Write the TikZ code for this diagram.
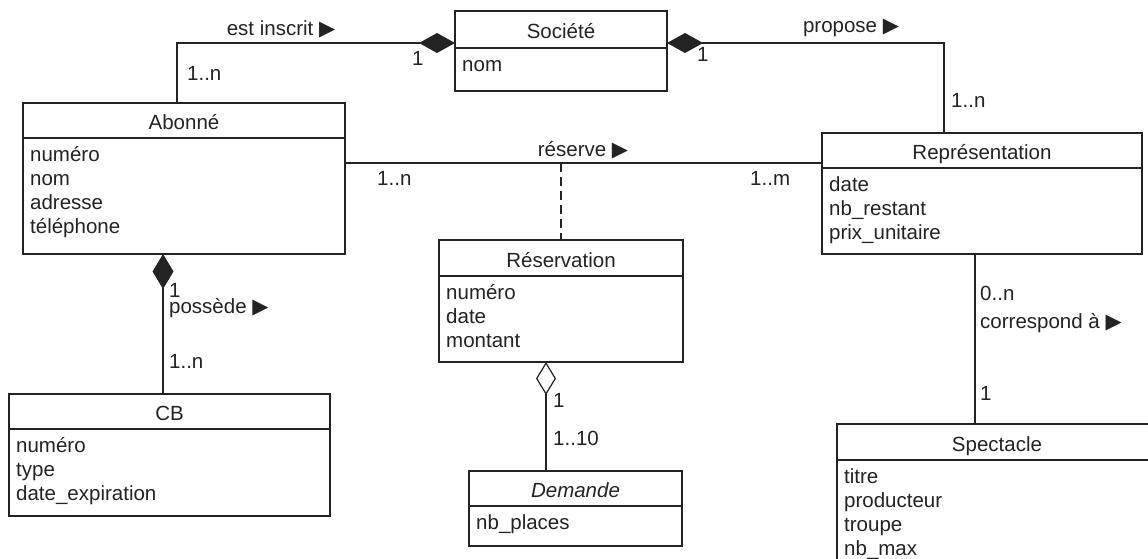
\documentclass[tikz,border=0pt]{standalone}
\usepackage{fontspec}
\setmainfont{Liberation Sans}
\newfontfamily\symfont{DejaVu Sans}
\usetikzlibrary{arrows.meta,fit}
\definecolor{ink}{RGB}{35,35,35}
\newcommand\tri{{\symfont\fontsize{21}{21}\selectfont ▶}}
\tikzset{
  box/.style={draw=ink, line width=1.2pt, inner sep=0pt, outer sep=0pt},
  txt/.style={text=ink, inner sep=0pt, font=\fontsize{20.5}{24}\selectfont},
  lab/.style={txt, anchor=base west},
  conn/.style={draw=ink, line width=1.2pt},
}
\newcommand\umlclass[8]{%
  \node[box, fit={(#2,#3) (#4,#5)}] (#1) {};
  \draw[ink, line width=1.2pt] (#2,#6) -- (#4,#6);
  \node[txt, anchor=base] (#1-t) at ({(#2+#4)/2}, #6-9) {#7};
  \foreach \a [count=\i] in {#8}
    \node[txt, anchor=base west] (#1-a\i) at (#2+7, {#6+23.5+24*(\i-1)}) {\a};
}
\begin{document}
\begin{tikzpicture}[x=1pt, y=-1pt]
\path[use as bounding box, clip] (0,0) rectangle (1148,559);
\fill[white] (0,0) rectangle (1148,559);

\umlclass{soc}{455}{11}{667}{91}{48}{Société}{nom}
\umlclass{abo}{23}{103}{345}{254}{138}{Abonné}{numéro,nom,adresse,téléphone}
\umlclass{rep}{822}{133}{1142}{254}{168}{Représentation}{date,nb\_restant,prix\_unitaire}
\umlclass{res}{439}{240}{683}{362}{276}{Réservation}{numéro,date,montant}
\umlclass{cb}{9}{394}{330}{516}{429}{CB}{numéro,type,date\_expiration}
\umlclass{dem}{469}{471}{682}{546}{506}{\itshape Demande}{nb\_places}
\umlclass{spe}{837}{424}{1157}{600}{460}{Spectacle}{titre,producteur,troupe,nb\_max}

% est inscrit
\draw[conn, -{Diamond[length=36pt,width=20pt]}] ([xshift=-7pt]abo.north) |- ([yshift=8pt]soc.west);
\node[txt, anchor=base] (l-ins) at (281,36) {est inscrit \tri};
\node[lab] (l-ins1) at (412,66) {1};
\node[lab] (l-insn) at (187,81) {1..n};

% propose
\draw[conn, {Diamond[length=36pt,width=20pt]}-] ([yshift=8pt]soc.east) -| ([xshift=-38pt]rep.north);
\node[txt, anchor=base] (l-pro) at (851,33) {propose \tri};
\node[lab] (l-pro1) at (697,62) {1};
\node[lab] (l-pron) at (951,108) {1..n};

% reserve
\coordinate (rs) at ([yshift=15.5pt]abo.east);
\draw[conn] (rs) -- (rs -| rep.west);
\draw[conn, dash pattern=on 9pt off 5pt] (res.north |- rs) -- (res.north);
\node[txt, anchor=base] (l-res) at (583,157) {réserve \tri};
\node[lab] (l-resn) at (377,185) {1..n};
\node[lab] (l-resm) at (750,185) {1..m};

% possede
\draw[conn, {Diamond[length=35pt,width=21pt]}-] ([xshift=-21pt]abo.south) -- ([xshift=-21pt]abo.south |- cb.north);
\node[lab] (l-pos1) at (169,297) {1};
\node[lab] (l-pos) at (169,313) {possède \tri};
\node[lab] (l-posn) at (169,368) {1..n};

% reservation - demande
\draw[conn, {Diamond[open,length=33pt,width=20pt,fill=white]}-] ([xshift=-15pt]res.south) -- ([xshift=-15pt]res.south |- dem.north);
\node[lab] (l-dem1) at (553,407) {1};
\node[lab] (l-demn) at (553,445) {1..10};

% correspond
\draw[conn] ([xshift=-7pt]rep.south) -- ([xshift=-7pt]rep.south |- spe.north);
\node[lab] (l-cor0) at (980,300) {0..n};
\node[lab] (l-cor) at (980,328) {correspond à \tri};
\node[lab] (l-cor1) at (980,400) {1};
\end{tikzpicture}
\end{document}
